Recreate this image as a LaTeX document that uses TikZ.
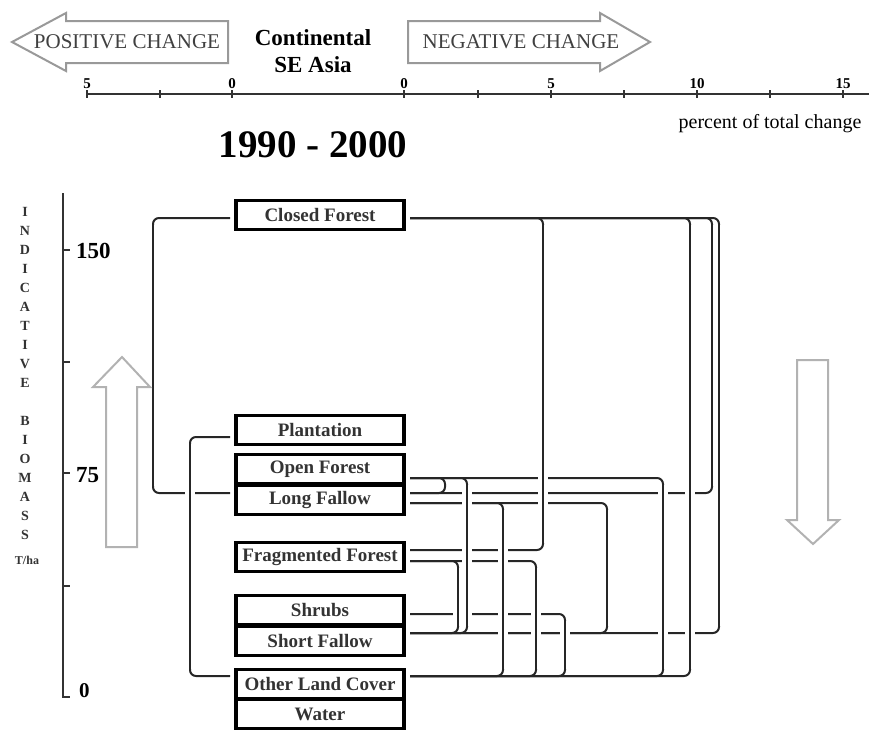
\documentclass[tikz,border=0pt]{standalone}
\usepackage{fontspec}
\setmainfont{Liberation Serif}

\begin{document}
\begin{tikzpicture}[x=1pt,y=-1pt,
  box/.style={draw=black,line width=3.5pt,minimum width=168pt,minimum height=29pt,
    inner sep=0pt,outer sep=6pt,text=black!80,font=\fontsize{19}{19}\selectfont\bfseries},
  link/.style={draw=black!85,line width=2pt,rounded corners=6pt},
  gap/.style={draw=white,line width=10pt},
  bigarrow/.style={draw=black!40,line width=2pt,line join=miter},
  axis/.style={draw=black!80,line width=2pt},
  tick/.style={draw=black!80,line width=1.5pt},
  vlet/.style={text=black!80,inner sep=0pt,font=\fontsize{14}{14}\selectfont\bfseries}]
  \useasboundingbox (0,0) rectangle (869,729);

  \draw[bigarrow] (228,21) -- (66,21) -- (66,13) -- (12,42) -- (66,71) -- (66,63) -- (228,63) -- cycle;
  \draw[bigarrow] (408,21) -- (600,21) -- (600,13) -- (650,42) -- (600,71) -- (600,63) -- (408,63) -- cycle;
  \node[text=black!75,font=\fontsize{21}{21}\selectfont] (pos) at (127,42) {POSITIVE CHANGE};
  \node[text=black!75,font=\fontsize{21}{21}\selectfont] (neg) at (521,42) {NEGATIVE CHANGE};
  \node[anchor=base,font=\fontsize{23}{23}\selectfont\bfseries] (cont) at (313,45) {Continental};
  \node[anchor=base,font=\fontsize{23}{23}\selectfont\bfseries] (asia) at (313,72) {SE Asia};

  \draw[axis] (87,94) -- (869,94);
  \foreach \x in {87,160,232,404,478,551,624,697,770,843}
    \draw[tick] (\x,90) -- (\x,98);
  \foreach \x/\t in {87/5,232/0,404/0,551/5,697/10,843/15}
    \node[anchor=base,inner sep=0pt,font=\fontsize{15}{15}\selectfont\bfseries] (num\x) at (\x,88) {\t};
  \node[anchor=base,font=\fontsize{20}{20}\selectfont] (pct) at (770,128) {percent of total change};
  \node[anchor=base,font=\fontsize{39}{39}\selectfont\bfseries] (years) at (313,157) {1990 - 2000};

  \draw[axis] (63,193) -- (63,697) -- (70,697);
  \foreach \y in {250,362,473,586}
    \draw[tick] (63,\y) -- (70,\y);
  \node[anchor=base west,inner sep=0pt,font=\fontsize{23}{23}\selectfont\bfseries] (b150) at (76,258) {150};
  \node[anchor=base west,inner sep=0pt,font=\fontsize{23}{23}\selectfont\bfseries] (b75) at (76,482) {75};
  \node[anchor=base west,inner sep=0pt,font=\fontsize{21}{21}\selectfont\bfseries] (b0) at (79,697) {0};
  \foreach \ltr [count=\k] in {I,N,D,I,C,A,T,I,V,E}
    \node[vlet] (ind\k) at (25,193+19*\k) {\ltr};
  \foreach \ltr [count=\k] in {B,I,O,M,A,S,S}
    \node[vlet] (bio\k) at (25,402+19*\k) {\ltr};
  \node[vlet,anchor=base,font=\fontsize{12}{12}\selectfont\bfseries] (unit) at (27,564) {T/ha};

  \node[box] (cf) at (320,215) {Closed Forest};
  \node[box] (pl) at (320,430) {Plantation};
  \node[box] (of) at (320,469) {Open Forest};
  \node[box] (lf) at (320,500) {Long Fallow};
  \node[box] (ff) at (320,557) {Fragmented Forest};
  \node[box] (sh) at (320,610) {Shrubs};
  \node[box] (sf) at (320,641) {Short Fallow};
  \node[box] (olc) at (320,684) {Other Land Cover};
  \node[box] (wa) at (320,714) {Water};

  \draw[link] (cf.east |- 0,218) -| (543,550) -- (ff.east |- 0,550);
  \draw[link] (cf.east |- 0,218) -| (690,676) -- (olc.east |- 0,676);
  \draw[link] (cf.east |- 0,218) -| (712,493) -- (lf.east |- 0,493);
  \draw[link] (cf.east |- 0,218) -| (719,633) -- (sf.east |- 0,633);
  \draw[link] (of.east |- 0,478) -| (445,493) -- (lf.east |- 0,493);
  \draw[link] (of.east |- 0,478) -| (467,633) -- (sf.east |- 0,633);
  \draw[link] (of.east |- 0,478) -| (663,676) -- (olc.east |- 0,676);
  \draw[link] (lf.east |- 0,503) -| (503,676) -- (olc.east |- 0,676);
  \draw[link] (lf.east |- 0,503) -| (607,633) -- (sf.east |- 0,633);
  \draw[link] (ff.east |- 0,561) -| (458,633) -- (sf.east |- 0,633);
  \draw[link] (ff.east |- 0,561) -| (536,676) -- (olc.east |- 0,676);
  \draw[link] (sh.east |- 0,614) -| (565,676) -- (olc.east |- 0,676);
  \draw[link] (cf.west |- 0,218) -| (153,493) -- (lf.west |- 0,493);
  \draw[link] (pl.west |- 0,437) -| (190,676) -- (olc.west |- 0,676);

  % verticals pass over the horizontals
  \foreach \x/\a/\b in {543/218/550,690/218/676,712/218/493,719/218/633,467/478/633,663/478/676,
      503/503/676,607/503/633,458/561/633,536/561/676,565/614/676,153/218/493,190/437/676}
    \draw[gap] (\x,\a+7) -- (\x,\b-7);
  \foreach \x/\a/\b in {543/218/550,690/218/676,712/218/493,719/218/633,467/478/633,663/478/676,
      503/503/676,607/503/633,458/561/633,536/561/676,565/614/676,153/218/493,190/437/676}
    \draw[link] (\x,\a+7) -- (\x,\b-7);

  \draw[bigarrow,draw=black!30] (106,547) -- (106,387) -- (93,387) -- (122,357) -- (150,387) -- (137,387) -- (137,547) -- cycle;
  \draw[bigarrow,draw=black!30] (797,360) -- (828,360) -- (828,520) -- (839,520) -- (813,544) -- (787,520) -- (797,520) -- cycle;
\end{tikzpicture}
\end{document}
